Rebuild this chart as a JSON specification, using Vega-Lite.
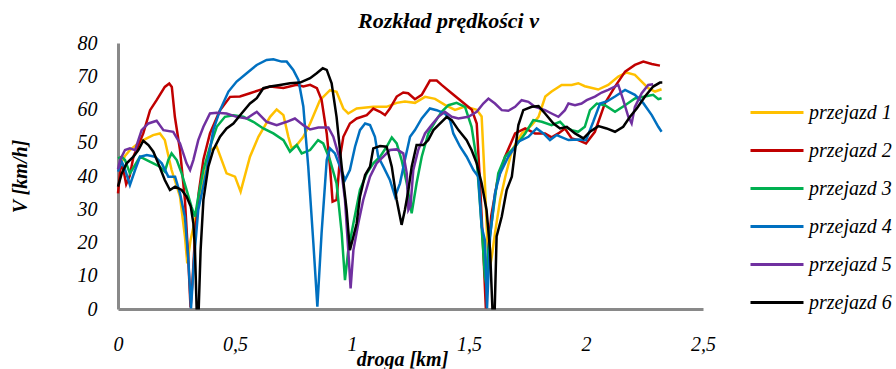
{
"$schema": "https://vega.github.io/schema/vega-lite/v6.json",
"width": 585, "height": 266,
"autosize": "none",
"padding": {"left": 118, "top": 43, "right": 193, "bottom": 60},
"background": "white",
"title": {"text": "Rozkład prędkości v", "font": "Liberation Serif", "fontSize": 22, "fontStyle": "italic", "fontWeight": "bold", "color": "black", "anchor": "middle", "dx": 38, "offset": 0},
"config": {
  "view": {"stroke": null},
  "axis": {"domainColor": "#898989", "domainWidth": 3, "ticks": false, "tickSize": 0, "grid": false,
    "labelFont": "Liberation Serif", "labelFontStyle": "italic", "labelFontSize": 20, "labelColor": "black",
    "titleFont": "Liberation Serif", "titleFontStyle": "italic", "titleFontWeight": "bold", "titleFontSize": 20, "titleColor": "black"},
  "legend": {"labelFont": "Liberation Serif", "labelFontStyle": "italic", "labelFontSize": 20, "labelColor": "black", "padding": 0}
},
"data": {"values": [
{"s":"przejazd 1","km":0.005,"v":43},{"s":"przejazd 1","km":0.03,"v":46},{"s":"przejazd 1","km":0.051,"v":47.8},{"s":"przejazd 1","km":0.08,"v":49.5},{"s":"przejazd 1","km":0.108,"v":50.8},{"s":"przejazd 1","km":0.15,"v":52.3},{"s":"przejazd 1","km":0.179,"v":52.8},{"s":"przejazd 1","km":0.2,"v":50.8},{"s":"przejazd 1","km":0.229,"v":41.8},{"s":"przejazd 1","km":0.265,"v":33.8},{"s":"przejazd 1","km":0.286,"v":21.8},{"s":"przejazd 1","km":0.296,"v":13.7},{"s":"przejazd 1","km":0.31,"v":20.7},{"s":"przejazd 1","km":0.329,"v":26.8},{"s":"przejazd 1","km":0.357,"v":35.8},{"s":"przejazd 1","km":0.393,"v":47.8},{"s":"przejazd 1","km":0.422,"v":48.8},{"s":"przejazd 1","km":0.464,"v":40.8},{"s":"przejazd 1","km":0.5,"v":39.8},{"s":"przejazd 1","km":0.524,"v":35.3},{"s":"przejazd 1","km":0.564,"v":45.8},{"s":"przejazd 1","km":0.6,"v":51.8},{"s":"przejazd 1","km":0.65,"v":57.8},{"s":"przejazd 1","km":0.678,"v":60},{"s":"przejazd 1","km":0.707,"v":58.3},{"s":"przejazd 1","km":0.728,"v":51.8},{"s":"przejazd 1","km":0.742,"v":48.3},{"s":"przejazd 1","km":0.764,"v":49.3},{"s":"przejazd 1","km":0.792,"v":51.8},{"s":"przejazd 1","km":0.821,"v":55.8},{"s":"przejazd 1","km":0.863,"v":62.8},{"s":"przejazd 1","km":0.906,"v":65.8},{"s":"przejazd 1","km":0.934,"v":65.3},{"s":"przejazd 1","km":0.963,"v":60.3},{"s":"przejazd 1","km":0.984,"v":58.8},{"s":"przejazd 1","km":1.02,"v":60.3},{"s":"przejazd 1","km":1.091,"v":60.8},{"s":"przejazd 1","km":1.148,"v":60.8},{"s":"przejazd 1","km":1.191,"v":62},{"s":"przejazd 1","km":1.226,"v":62.4},{"s":"przejazd 1","km":1.269,"v":62},{"s":"przejazd 1","km":1.312,"v":63.8},{"s":"przejazd 1","km":1.355,"v":63.2},{"s":"przejazd 1","km":1.397,"v":61.4},{"s":"przejazd 1","km":1.44,"v":59.9},{"s":"przejazd 1","km":1.483,"v":60.9},{"s":"przejazd 1","km":1.533,"v":59.9},{"s":"przejazd 1","km":1.554,"v":57.9},{"s":"przejazd 1","km":1.568,"v":37.8},{"s":"przejazd 1","km":1.58,"v":17.7},{"s":"przejazd 1","km":1.588,"v":12},{"s":"przejazd 1","km":1.598,"v":16},{"s":"przejazd 1","km":1.611,"v":22.8},{"s":"przejazd 1","km":1.633,"v":32.8},{"s":"przejazd 1","km":1.655,"v":39.8},{"s":"przejazd 1","km":1.684,"v":47.8},{"s":"przejazd 1","km":1.726,"v":52.8},{"s":"przejazd 1","km":1.768,"v":55.3},{"s":"przejazd 1","km":1.797,"v":57.8},{"s":"przejazd 1","km":1.826,"v":63.9},{"s":"przejazd 1","km":1.853,"v":65.4},{"s":"przejazd 1","km":1.896,"v":67.4},{"s":"przejazd 1","km":1.939,"v":67.4},{"s":"przejazd 1","km":1.967,"v":67.9},{"s":"przejazd 1","km":1.995,"v":67},{"s":"przejazd 1","km":2.052,"v":66},{"s":"przejazd 1","km":2.095,"v":67.4},{"s":"przejazd 1","km":2.138,"v":69.9},{"s":"przejazd 1","km":2.173,"v":71.1},{"s":"przejazd 1","km":2.209,"v":70.4},{"s":"przejazd 1","km":2.238,"v":68.4},{"s":"przejazd 1","km":2.266,"v":66.4},{"s":"przejazd 1","km":2.295,"v":65.4},{"s":"przejazd 1","km":2.323,"v":66.1},
{"s":"przejazd 2","km":0,"v":34.8},{"s":"przejazd 2","km":0.01,"v":42},{"s":"przejazd 2","km":0.02,"v":43},{"s":"przejazd 2","km":0.035,"v":37.5},{"s":"przejazd 2","km":0.05,"v":40},{"s":"przejazd 2","km":0.066,"v":45.8},{"s":"przejazd 2","km":0.108,"v":52.8},{"s":"przejazd 2","km":0.137,"v":59.8},{"s":"przejazd 2","km":0.165,"v":62.8},{"s":"przejazd 2","km":0.2,"v":66.8},{"s":"przejazd 2","km":0.219,"v":67.8},{"s":"przejazd 2","km":0.23,"v":66.8},{"s":"przejazd 2","km":0.243,"v":57.8},{"s":"przejazd 2","km":0.265,"v":47.8},{"s":"przejazd 2","km":0.286,"v":32.8},{"s":"przejazd 2","km":0.3,"v":15.5},{"s":"przejazd 2","km":0.31,"v":0.5},{"s":"przejazd 2","km":0.318,"v":8},{"s":"przejazd 2","km":0.329,"v":21.8},{"s":"przejazd 2","km":0.345,"v":35},{"s":"przejazd 2","km":0.365,"v":45},{"s":"przejazd 2","km":0.393,"v":52.8},{"s":"przejazd 2","km":0.436,"v":59.8},{"s":"przejazd 2","km":0.479,"v":63.8},{"s":"przejazd 2","km":0.521,"v":63.9},{"s":"przejazd 2","km":0.564,"v":64.9},{"s":"przejazd 2","km":0.607,"v":65.9},{"s":"przejazd 2","km":0.65,"v":66.9},{"s":"przejazd 2","km":0.707,"v":66.5},{"s":"przejazd 2","km":0.764,"v":67.4},{"s":"przejazd 2","km":0.792,"v":66.9},{"s":"przejazd 2","km":0.821,"v":67.4},{"s":"przejazd 2","km":0.85,"v":66.4},{"s":"przejazd 2","km":0.87,"v":62.9},{"s":"przejazd 2","km":0.892,"v":52.8},{"s":"przejazd 2","km":0.906,"v":42.8},{"s":"przejazd 2","km":0.917,"v":32.3},{"s":"przejazd 2","km":0.934,"v":32.8},{"s":"przejazd 2","km":0.949,"v":45.8},{"s":"przejazd 2","km":0.963,"v":51.8},{"s":"przejazd 2","km":0.991,"v":55.8},{"s":"przejazd 2","km":1.02,"v":57.3},{"s":"przejazd 2","km":1.063,"v":58.3},{"s":"przejazd 2","km":1.091,"v":60.3},{"s":"przejazd 2","km":1.12,"v":59.3},{"s":"przejazd 2","km":1.141,"v":58.3},{"s":"przejazd 2","km":1.162,"v":60.3},{"s":"przejazd 2","km":1.191,"v":63.9},{"s":"przejazd 2","km":1.219,"v":65.1},{"s":"przejazd 2","km":1.24,"v":64.9},{"s":"przejazd 2","km":1.269,"v":63.1},{"s":"przejazd 2","km":1.298,"v":64.4},{"s":"przejazd 2","km":1.333,"v":68.7},{"s":"przejazd 2","km":1.362,"v":68.7},{"s":"przejazd 2","km":1.383,"v":67.4},{"s":"przejazd 2","km":1.426,"v":64.9},{"s":"przejazd 2","km":1.469,"v":62.4},{"s":"przejazd 2","km":1.512,"v":59.9},{"s":"przejazd 2","km":1.533,"v":55.8},{"s":"przejazd 2","km":1.547,"v":37.8},{"s":"przejazd 2","km":1.561,"v":17.7},{"s":"przejazd 2","km":1.572,"v":0.2},{"s":"przejazd 2","km":1.58,"v":15},{"s":"przejazd 2","km":1.595,"v":28},{"s":"przejazd 2","km":1.62,"v":38},{"s":"przejazd 2","km":1.654,"v":45.8},{"s":"przejazd 2","km":1.697,"v":52.8},{"s":"przejazd 2","km":1.74,"v":54.3},{"s":"przejazd 2","km":1.782,"v":52.8},{"s":"przejazd 2","km":1.825,"v":52.8},{"s":"przejazd 2","km":1.853,"v":51.6},{"s":"przejazd 2","km":1.882,"v":52.8},{"s":"przejazd 2","km":1.91,"v":54.3},{"s":"przejazd 2","km":1.939,"v":51.3},{"s":"przejazd 2","km":1.967,"v":50.8},{"s":"przejazd 2","km":2.0,"v":49.8},{"s":"przejazd 2","km":2.038,"v":53.3},{"s":"przejazd 2","km":2.081,"v":61.9},{"s":"przejazd 2","km":2.124,"v":66.9},{"s":"przejazd 2","km":2.167,"v":71.4},{"s":"przejazd 2","km":2.209,"v":73.4},{"s":"przejazd 2","km":2.245,"v":74.4},{"s":"przejazd 2","km":2.281,"v":73.7},{"s":"przejazd 2","km":2.316,"v":73.2},
{"s":"przejazd 3","km":0,"v":45.3},{"s":"przejazd 3","km":0.016,"v":45.8},{"s":"przejazd 3","km":0.03,"v":44.8},{"s":"przejazd 3","km":0.051,"v":40.8},{"s":"przejazd 3","km":0.073,"v":43.3},{"s":"przejazd 3","km":0.094,"v":45.8},{"s":"przejazd 3","km":0.123,"v":44.8},{"s":"przejazd 3","km":0.151,"v":43.8},{"s":"przejazd 3","km":0.179,"v":42.8},{"s":"przejazd 3","km":0.2,"v":41.3},{"s":"przejazd 3","km":0.215,"v":44.8},{"s":"przejazd 3","km":0.229,"v":46.8},{"s":"przejazd 3","km":0.251,"v":44.8},{"s":"przejazd 3","km":0.272,"v":40.8},{"s":"przejazd 3","km":0.293,"v":35.8},{"s":"przejazd 3","km":0.314,"v":30.8},{"s":"przejazd 3","km":0.329,"v":27.8},{"s":"przejazd 3","km":0.343,"v":33.8},{"s":"przejazd 3","km":0.365,"v":41.8},{"s":"przejazd 3","km":0.393,"v":48.8},{"s":"przejazd 3","km":0.422,"v":54.8},{"s":"przejazd 3","km":0.457,"v":57.8},{"s":"przejazd 3","km":0.493,"v":58.3},{"s":"przejazd 3","km":0.536,"v":57.8},{"s":"przejazd 3","km":0.578,"v":56.3},{"s":"przejazd 3","km":0.621,"v":54.3},{"s":"przejazd 3","km":0.664,"v":52.8},{"s":"przejazd 3","km":0.707,"v":50.8},{"s":"przejazd 3","km":0.735,"v":47.3},{"s":"przejazd 3","km":0.764,"v":49.3},{"s":"przejazd 3","km":0.785,"v":46.8},{"s":"przejazd 3","km":0.821,"v":47.8},{"s":"przejazd 3","km":0.855,"v":50.8},{"s":"przejazd 3","km":0.877,"v":49.8},{"s":"przejazd 3","km":0.906,"v":44.8},{"s":"przejazd 3","km":0.934,"v":37.8},{"s":"przejazd 3","km":0.956,"v":22.8},{"s":"przejazd 3","km":0.97,"v":8.7},{"s":"przejazd 3","km":0.984,"v":17.7},{"s":"przejazd 3","km":1.006,"v":25.8},{"s":"przejazd 3","km":1.034,"v":35.8},{"s":"przejazd 3","km":1.063,"v":40.8},{"s":"przejazd 3","km":1.091,"v":43.8},{"s":"przejazd 3","km":1.12,"v":45.8},{"s":"przejazd 3","km":1.148,"v":48.8},{"s":"przejazd 3","km":1.17,"v":51.6},{"s":"przejazd 3","km":1.191,"v":49.8},{"s":"przejazd 3","km":1.212,"v":44.8},{"s":"przejazd 3","km":1.234,"v":37.8},{"s":"przejazd 3","km":1.255,"v":28.8},{"s":"przejazd 3","km":1.276,"v":37.8},{"s":"przejazd 3","km":1.298,"v":45.8},{"s":"przejazd 3","km":1.326,"v":52.8},{"s":"przejazd 3","km":1.355,"v":56.3},{"s":"przejazd 3","km":1.383,"v":59.3},{"s":"przejazd 3","km":1.412,"v":61.3},{"s":"przejazd 3","km":1.447,"v":62},{"s":"przejazd 3","km":1.483,"v":60.8},{"s":"przejazd 3","km":1.511,"v":54.8},{"s":"przejazd 3","km":1.533,"v":44.8},{"s":"przejazd 3","km":1.551,"v":27.8},{"s":"przejazd 3","km":1.568,"v":9.7},{"s":"przejazd 3","km":1.575,"v":7},{"s":"przejazd 3","km":1.582,"v":17.7},{"s":"przejazd 3","km":1.604,"v":29.8},{"s":"przejazd 3","km":1.625,"v":40.8},{"s":"przejazd 3","km":1.654,"v":45.8},{"s":"przejazd 3","km":1.697,"v":48.8},{"s":"przejazd 3","km":1.74,"v":52.8},{"s":"przejazd 3","km":1.775,"v":56.8},{"s":"przejazd 3","km":1.811,"v":56.3},{"s":"przejazd 3","km":1.853,"v":55.3},{"s":"przejazd 3","km":1.889,"v":56.3},{"s":"przejazd 3","km":1.91,"v":54.8},{"s":"przejazd 3","km":1.939,"v":53.8},{"s":"przejazd 3","km":1.967,"v":53.3},{"s":"przejazd 3","km":1.995,"v":54.8},{"s":"przejazd 3","km":2.017,"v":59.8},{"s":"przejazd 3","km":2.046,"v":61.8},{"s":"przejazd 3","km":2.081,"v":61.3},{"s":"przejazd 3","km":2.124,"v":59.3},{"s":"przejazd 3","km":2.167,"v":61.3},{"s":"przejazd 3","km":2.209,"v":63.3},{"s":"przejazd 3","km":2.252,"v":63.9},{"s":"przejazd 3","km":2.287,"v":64.4},{"s":"przejazd 3","km":2.309,"v":63.1},{"s":"przejazd 3","km":2.323,"v":63.4},
{"s":"przejazd 4","km":0,"v":41.3},{"s":"przejazd 4","km":0.016,"v":44.3},{"s":"przejazd 4","km":0.03,"v":42},{"s":"przejazd 4","km":0.051,"v":37.3},{"s":"przejazd 4","km":0.073,"v":41.8},{"s":"przejazd 4","km":0.094,"v":45.8},{"s":"przejazd 4","km":0.123,"v":46.3},{"s":"przejazd 4","km":0.158,"v":45.8},{"s":"przejazd 4","km":0.187,"v":43.8},{"s":"przejazd 4","km":0.215,"v":39.8},{"s":"przejazd 4","km":0.244,"v":39.8},{"s":"przejazd 4","km":0.265,"v":34.8},{"s":"przejazd 4","km":0.286,"v":27.6},{"s":"przejazd 4","km":0.3,"v":15.5},{"s":"przejazd 4","km":0.312,"v":0.2},{"s":"przejazd 4","km":0.325,"v":15},{"s":"przejazd 4","km":0.343,"v":29.8},{"s":"przejazd 4","km":0.379,"v":41.8},{"s":"przejazd 4","km":0.407,"v":53.8},{"s":"przejazd 4","km":0.436,"v":59.8},{"s":"przejazd 4","km":0.472,"v":65.4},{"s":"przejazd 4","km":0.507,"v":68.4},{"s":"przejazd 4","km":0.55,"v":70.9},{"s":"przejazd 4","km":0.593,"v":73.4},{"s":"przejazd 4","km":0.635,"v":74.9},{"s":"przejazd 4","km":0.664,"v":75.1},{"s":"przejazd 4","km":0.699,"v":74.4},{"s":"przejazd 4","km":0.721,"v":74.4},{"s":"przejazd 4","km":0.749,"v":71.9},{"s":"przejazd 4","km":0.771,"v":68.9},{"s":"przejazd 4","km":0.792,"v":60.9},{"s":"przejazd 4","km":0.813,"v":42.8},{"s":"przejazd 4","km":0.835,"v":19.7},{"s":"przejazd 4","km":0.852,"v":0.7},{"s":"przejazd 4","km":0.87,"v":22.8},{"s":"przejazd 4","km":0.892,"v":44.8},{"s":"przejazd 4","km":0.906,"v":48.3},{"s":"przejazd 4","km":0.927,"v":46.8},{"s":"przejazd 4","km":0.949,"v":42.8},{"s":"przejazd 4","km":0.97,"v":38.8},{"s":"przejazd 4","km":0.991,"v":41.8},{"s":"przejazd 4","km":1.013,"v":48.8},{"s":"przejazd 4","km":1.034,"v":53.8},{"s":"przejazd 4","km":1.056,"v":55.8},{"s":"przejazd 4","km":1.077,"v":55.3},{"s":"przejazd 4","km":1.098,"v":51.8},{"s":"przejazd 4","km":1.112,"v":45.8},{"s":"przejazd 4","km":1.134,"v":42.8},{"s":"przejazd 4","km":1.162,"v":38.8},{"s":"przejazd 4","km":1.184,"v":33.8},{"s":"przejazd 4","km":1.205,"v":37.8},{"s":"przejazd 4","km":1.226,"v":44.8},{"s":"przejazd 4","km":1.248,"v":51.8},{"s":"przejazd 4","km":1.269,"v":53.8},{"s":"przejazd 4","km":1.298,"v":57.3},{"s":"przejazd 4","km":1.333,"v":60.3},{"s":"przejazd 4","km":1.362,"v":59.8},{"s":"przejazd 4","km":1.397,"v":58.8},{"s":"przejazd 4","km":1.419,"v":56.8},{"s":"przejazd 4","km":1.433,"v":52.8},{"s":"przejazd 4","km":1.462,"v":48.8},{"s":"przejazd 4","km":1.49,"v":45.8},{"s":"przejazd 4","km":1.519,"v":41.8},{"s":"przejazd 4","km":1.54,"v":39.8},{"s":"przejazd 4","km":1.554,"v":24.8},{"s":"przejazd 4","km":1.568,"v":20.7},{"s":"przejazd 4","km":1.577,"v":0.2},{"s":"przejazd 4","km":1.59,"v":21.8},{"s":"przejazd 4","km":1.611,"v":34.8},{"s":"przejazd 4","km":1.633,"v":40.8},{"s":"przejazd 4","km":1.668,"v":45.8},{"s":"przejazd 4","km":1.711,"v":50.3},{"s":"przejazd 4","km":1.754,"v":51.8},{"s":"przejazd 4","km":1.789,"v":54.3},{"s":"przejazd 4","km":1.818,"v":52.8},{"s":"przejazd 4","km":1.846,"v":50.8},{"s":"przejazd 4","km":1.875,"v":52.3},{"s":"przejazd 4","km":1.925,"v":50.8},{"s":"przejazd 4","km":1.967,"v":51},{"s":"przejazd 4","km":2.0,"v":50.8},{"s":"przejazd 4","km":2.031,"v":56.3},{"s":"przejazd 4","km":2.06,"v":61.8},{"s":"przejazd 4","km":2.088,"v":62.4},{"s":"przejazd 4","km":2.124,"v":63.9},{"s":"przejazd 4","km":2.167,"v":65.9},{"s":"przejazd 4","km":2.209,"v":64.4},{"s":"przejazd 4","km":2.245,"v":61.9},{"s":"przejazd 4","km":2.281,"v":58.3},{"s":"przejazd 4","km":2.309,"v":54.8},{"s":"przejazd 4","km":2.323,"v":53.3},
{"s":"przejazd 5","km":0,"v":42},{"s":"przejazd 5","km":0.009,"v":44.8},{"s":"przejazd 5","km":0.03,"v":47.8},{"s":"przejazd 5","km":0.051,"v":48.3},{"s":"przejazd 5","km":0.073,"v":47.8},{"s":"przejazd 5","km":0.101,"v":53.8},{"s":"przejazd 5","km":0.13,"v":55.8},{"s":"przejazd 5","km":0.165,"v":56.6},{"s":"przejazd 5","km":0.194,"v":53.8},{"s":"przejazd 5","km":0.236,"v":53.3},{"s":"przejazd 5","km":0.265,"v":49.8},{"s":"przejazd 5","km":0.293,"v":43.8},{"s":"przejazd 5","km":0.308,"v":41.8},{"s":"przejazd 5","km":0.322,"v":44.8},{"s":"przejazd 5","km":0.343,"v":50.8},{"s":"przejazd 5","km":0.365,"v":54.8},{"s":"przejazd 5","km":0.393,"v":58.8},{"s":"przejazd 5","km":0.422,"v":59},{"s":"przejazd 5","km":0.464,"v":58.8},{"s":"przejazd 5","km":0.507,"v":57.8},{"s":"przejazd 5","km":0.55,"v":57.3},{"s":"przejazd 5","km":0.593,"v":59.3},{"s":"przejazd 5","km":0.635,"v":56.3},{"s":"przejazd 5","km":0.678,"v":55.3},{"s":"przejazd 5","km":0.721,"v":56.3},{"s":"przejazd 5","km":0.756,"v":57.3},{"s":"przejazd 5","km":0.792,"v":55.3},{"s":"przejazd 5","km":0.821,"v":54},{"s":"przejazd 5","km":0.856,"v":54.6},{"s":"przejazd 5","km":0.899,"v":54.6},{"s":"przejazd 5","km":0.92,"v":51.8},{"s":"przejazd 5","km":0.949,"v":44.8},{"s":"przejazd 5","km":0.97,"v":32.8},{"s":"przejazd 5","km":0.984,"v":17.7},{"s":"przejazd 5","km":0.994,"v":6.2},{"s":"przejazd 5","km":1.006,"v":17.7},{"s":"przejazd 5","km":1.027,"v":25.8},{"s":"przejazd 5","km":1.048,"v":32.8},{"s":"przejazd 5","km":1.077,"v":39.8},{"s":"przejazd 5","km":1.105,"v":43.8},{"s":"przejazd 5","km":1.134,"v":45.8},{"s":"przejazd 5","km":1.162,"v":47.8},{"s":"przejazd 5","km":1.191,"v":48},{"s":"przejazd 5","km":1.219,"v":46.8},{"s":"przejazd 5","km":1.234,"v":40.8},{"s":"przejazd 5","km":1.241,"v":29.8},{"s":"przejazd 5","km":1.25,"v":31},{"s":"przejazd 5","km":1.262,"v":41.8},{"s":"przejazd 5","km":1.283,"v":47.8},{"s":"przejazd 5","km":1.312,"v":52.8},{"s":"przejazd 5","km":1.34,"v":55.3},{"s":"przejazd 5","km":1.369,"v":57.8},{"s":"przejazd 5","km":1.397,"v":59.3},{"s":"przejazd 5","km":1.426,"v":57.8},{"s":"przejazd 5","km":1.455,"v":57.3},{"s":"przejazd 5","km":1.497,"v":57.8},{"s":"przejazd 5","km":1.533,"v":59.3},{"s":"przejazd 5","km":1.561,"v":61.8},{"s":"przejazd 5","km":1.583,"v":63.3},{"s":"przejazd 5","km":1.611,"v":61.8},{"s":"przejazd 5","km":1.64,"v":59.8},{"s":"przejazd 5","km":1.668,"v":59.6},{"s":"przejazd 5","km":1.697,"v":60.8},{"s":"przejazd 5","km":1.725,"v":62.8},{"s":"przejazd 5","km":1.754,"v":62.3},{"s":"przejazd 5","km":1.782,"v":60.8},{"s":"przejazd 5","km":1.825,"v":59.8},{"s":"przejazd 5","km":1.853,"v":58.8},{"s":"przejazd 5","km":1.882,"v":57.8},{"s":"przejazd 5","km":1.91,"v":59.8},{"s":"przejazd 5","km":1.925,"v":61.8},{"s":"przejazd 5","km":1.953,"v":61.3},{"s":"przejazd 5","km":1.981,"v":61.8},{"s":"przejazd 5","km":2.003,"v":62.8},{"s":"przejazd 5","km":2.038,"v":63.9},{"s":"przejazd 5","km":2.067,"v":65.1},{"s":"przejazd 5","km":2.095,"v":65.9},{"s":"przejazd 5","km":2.138,"v":67.4},{"s":"przejazd 5","km":2.159,"v":62.9},{"s":"przejazd 5","km":2.181,"v":57.8},{"s":"przejazd 5","km":2.195,"v":55.8},{"s":"przejazd 5","km":2.209,"v":60.8},{"s":"przejazd 5","km":2.238,"v":64.9},{"s":"przejazd 5","km":2.266,"v":67.4},{"s":"przejazd 5","km":2.287,"v":67.6},
{"s":"przejazd 6","km":0,"v":36.8},{"s":"przejazd 6","km":0.016,"v":40.8},{"s":"przejazd 6","km":0.037,"v":43.8},{"s":"przejazd 6","km":0.066,"v":45.8},{"s":"przejazd 6","km":0.087,"v":47.8},{"s":"przejazd 6","km":0.108,"v":50.6},{"s":"przejazd 6","km":0.13,"v":49.3},{"s":"przejazd 6","km":0.151,"v":47.3},{"s":"przejazd 6","km":0.172,"v":43.8},{"s":"przejazd 6","km":0.2,"v":38.8},{"s":"przejazd 6","km":0.222,"v":35.8},{"s":"przejazd 6","km":0.244,"v":36.8},{"s":"przejazd 6","km":0.272,"v":35.8},{"s":"przejazd 6","km":0.293,"v":33.8},{"s":"przejazd 6","km":0.311,"v":30.8},{"s":"przejazd 6","km":0.322,"v":25.8},{"s":"przejazd 6","km":0.329,"v":17.7},{"s":"przejazd 6","km":0.336,"v":0.2},{"s":"przejazd 6","km":0.345,"v":0.2},{"s":"przejazd 6","km":0.353,"v":17.7},{"s":"przejazd 6","km":0.365,"v":32.8},{"s":"przejazd 6","km":0.386,"v":42.8},{"s":"przejazd 6","km":0.407,"v":47.8},{"s":"przejazd 6","km":0.436,"v":51.8},{"s":"przejazd 6","km":0.464,"v":54.3},{"s":"przejazd 6","km":0.493,"v":55.8},{"s":"przejazd 6","km":0.528,"v":58.8},{"s":"przejazd 6","km":0.564,"v":61.8},{"s":"przejazd 6","km":0.593,"v":63.4},{"s":"przejazd 6","km":0.621,"v":66.4},{"s":"przejazd 6","km":0.65,"v":66.9},{"s":"przejazd 6","km":0.692,"v":67.4},{"s":"przejazd 6","km":0.735,"v":67.9},{"s":"przejazd 6","km":0.778,"v":68.1},{"s":"przejazd 6","km":0.821,"v":69.4},{"s":"przejazd 6","km":0.849,"v":70.9},{"s":"przejazd 6","km":0.875,"v":72.4},{"s":"przejazd 6","km":0.892,"v":71.9},{"s":"przejazd 6","km":0.913,"v":67.9},{"s":"przejazd 6","km":0.934,"v":57.8},{"s":"przejazd 6","km":0.956,"v":42.8},{"s":"przejazd 6","km":0.977,"v":29.8},{"s":"przejazd 6","km":0.991,"v":17.7},{"s":"przejazd 6","km":1.006,"v":21.8},{"s":"przejazd 6","km":1.02,"v":25.8},{"s":"przejazd 6","km":1.034,"v":33.8},{"s":"przejazd 6","km":1.056,"v":40.3},{"s":"przejazd 6","km":1.077,"v":42.8},{"s":"przejazd 6","km":1.091,"v":48.3},{"s":"przejazd 6","km":1.12,"v":49},{"s":"przejazd 6","km":1.148,"v":48.8},{"s":"przejazd 6","km":1.17,"v":42.8},{"s":"przejazd 6","km":1.191,"v":32.8},{"s":"przejazd 6","km":1.212,"v":25.3},{"s":"przejazd 6","km":1.226,"v":29.8},{"s":"przejazd 6","km":1.241,"v":35.8},{"s":"przejazd 6","km":1.255,"v":42.8},{"s":"przejazd 6","km":1.276,"v":49.3},{"s":"przejazd 6","km":1.305,"v":49.3},{"s":"przejazd 6","km":1.326,"v":50.8},{"s":"przejazd 6","km":1.348,"v":53.8},{"s":"przejazd 6","km":1.369,"v":55.3},{"s":"przejazd 6","km":1.405,"v":57.8},{"s":"przejazd 6","km":1.426,"v":56.8},{"s":"przejazd 6","km":1.455,"v":53.8},{"s":"przejazd 6","km":1.49,"v":50.8},{"s":"przejazd 6","km":1.511,"v":47.8},{"s":"przejazd 6","km":1.533,"v":43.8},{"s":"przejazd 6","km":1.554,"v":37.8},{"s":"przejazd 6","km":1.575,"v":29.8},{"s":"przejazd 6","km":1.59,"v":17.7},{"s":"przejazd 6","km":1.6,"v":0.2},{"s":"przejazd 6","km":1.61,"v":0.2},{"s":"przejazd 6","km":1.618,"v":21.8},{"s":"przejazd 6","km":1.64,"v":27.8},{"s":"przejazd 6","km":1.661,"v":35.8},{"s":"przejazd 6","km":1.683,"v":39.8},{"s":"przejazd 6","km":1.697,"v":47.8},{"s":"przejazd 6","km":1.711,"v":55.3},{"s":"przejazd 6","km":1.732,"v":59.8},{"s":"przejazd 6","km":1.768,"v":60.8},{"s":"przejazd 6","km":1.797,"v":61},{"s":"przejazd 6","km":1.825,"v":58.8},{"s":"przejazd 6","km":1.861,"v":55.8},{"s":"przejazd 6","km":1.889,"v":54.3},{"s":"przejazd 6","km":1.918,"v":54.8},{"s":"przejazd 6","km":1.953,"v":52.8},{"s":"przejazd 6","km":1.989,"v":51.3},{"s":"przejazd 6","km":2.017,"v":53.3},{"s":"przejazd 6","km":2.053,"v":55},{"s":"przejazd 6","km":2.088,"v":54.3},{"s":"przejazd 6","km":2.124,"v":53.3},{"s":"przejazd 6","km":2.159,"v":54.8},{"s":"przejazd 6","km":2.188,"v":57.8},{"s":"przejazd 6","km":2.217,"v":60.3},{"s":"przejazd 6","km":2.252,"v":63.9},{"s":"przejazd 6","km":2.287,"v":66.9},{"s":"przejazd 6","km":2.316,"v":68.1},{"s":"przejazd 6","km":2.326,"v":68.1}
]},
"mark": {"type": "line", "strokeWidth": 2.5},
"encoding": {
  "x": {"field": "km", "type": "quantitative", "scale": {"domain": [0, 2.5], "nice": false, "zero": false},
    "axis": {"values": [0, 0.5, 1, 1.5, 2, 2.5], "labelExpr": "replace(format(datum.value, '~g'), '.', ',')", "title": "droga [km]", "labelPadding": 25, "labelFlush": false, "labelOverlap": false, "titlePadding": -5, "titleX": 284}},
  "y": {"field": "v", "type": "quantitative", "scale": {"domain": [0, 80], "nice": false},
    "axis": {"values": [0, 10, 20, 30, 40, 50, 60, 70, 80], "title": "V [km/h]", "labelPadding": 21, "titlePadding": 47}},
  "color": {"field": "s", "type": "nominal", "title": null,
    "scale": {"domain": ["przejazd 1", "przejazd 2", "przejazd 3", "przejazd 4", "przejazd 5", "przejazd 6"], "range": ["#FFC000", "#C00000", "#00B050", "#0070C0", "#7030A0", "#000000"]},
    "legend": {"orient": "none", "legendX": 631, "legendY": 41.5, "symbolType": "stroke", "symbolStrokeWidth": 3, "symbolSize": 2809, "rowPadding": -13.6, "labelOffset": 4}}
}
}
